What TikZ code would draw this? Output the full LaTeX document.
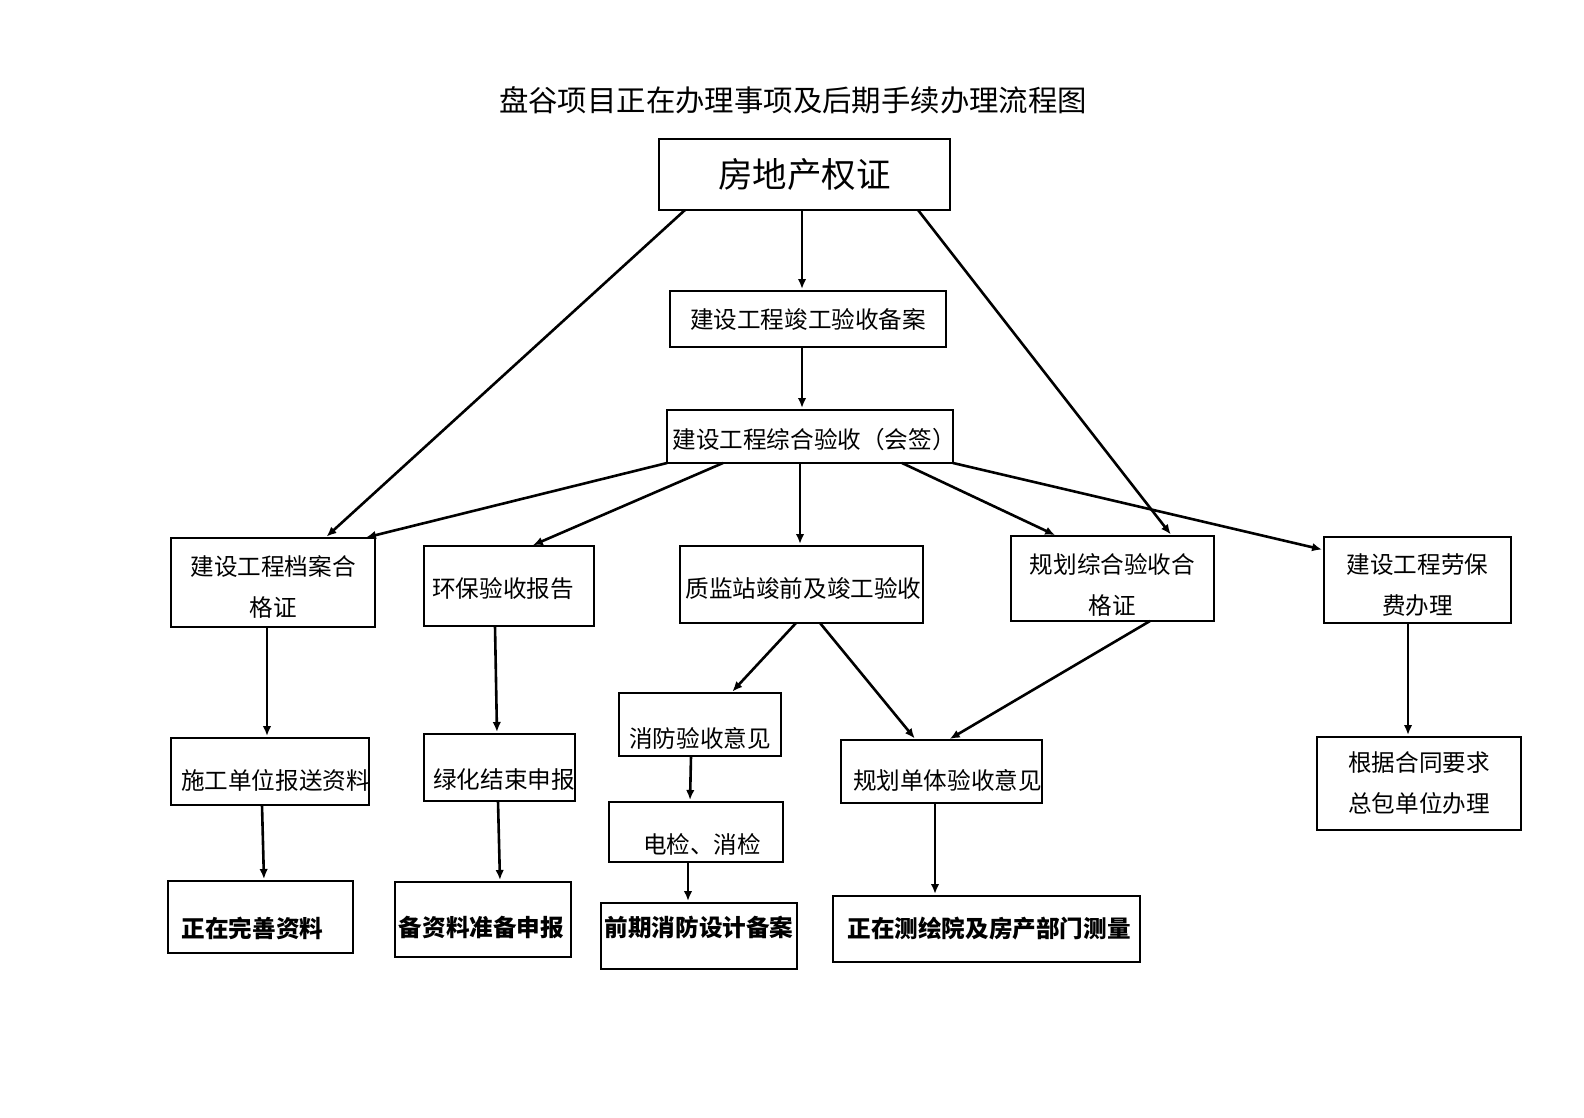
\documentclass[tikz,border=0pt]{standalone}
\usepackage{fontspec}
\setmainfont{Noto Sans CJK SC}
\usetikzlibrary{arrows.meta,positioning}

% move a line of text inside its box (dx, dy down)
\newcommand{\shifttxt}[3]{\raisebox{-#2}[\height][\depth]{\hspace*{#1}#3\hspace*{-#1}}}

\begin{document}
\begin{tikzpicture}[x=1pt,y=-1pt,>={Latex[length=10pt,width=8.5pt]},shorten >=2pt,
  box/.style={draw,line width=2.9pt,inner sep=0pt,outer sep=0pt,align=center,
    font=\fontsize{23.6}{41}\selectfont},
  boldbox/.style={box,font=\fontsize{23.6}{41}\selectfont\bfseries}]
  \useasboundingbox (0,0) rectangle (1584,1118);

  \node (title) at (793,100) {\fontsize{29.4}{36}\selectfont 盘谷项目正在办理事项及后期手续办理流程图};

  \node[box,minimum width=291pt,minimum height=71pt,font=\fontsize{34.5}{40}\selectfont] (fdc) at (804.5,174.5) {房地产权证};
  \node[box,minimum width=276pt,minimum height=56pt] (jgba) [below=81pt of fdc,xshift=3.5pt] {建设工程竣工验收备案};
  \node[box,minimum width=286pt,minimum height=53pt] (zhys) [below=63pt of jgba,xshift=2pt] {\shifttxt{4pt}{3pt}{建设工程综合验收（会签）}};

  % second row
  \node[box,minimum width=204pt,minimum height=89pt] (dajg) at (273,582.5) {\shifttxt{0pt}{4pt}{建设工程档案合}\\\shifttxt{0pt}{4pt}{格证}};
  \node[box,minimum width=170pt,minimum height=80pt] (hbys) at (509,586) {\shifttxt{-6pt}{3pt}{环保验收报告}};
  \node[box,minimum width=243pt,minimum height=77pt] (zjz) at (801.5,584.5) {\shifttxt{2pt}{4pt}{质监站竣前及竣工验收}};
  \node[box,minimum width=203pt,minimum height=85pt] (ghzh) at (1112.5,578.5) {\shifttxt{0pt}{6pt}{规划综合验收合}\\\shifttxt{0pt}{6pt}{格证}};
  \node[box,minimum width=187pt,minimum height=86pt] (lbf) at (1417.5,580) {\shifttxt{0pt}{5pt}{建设工程劳保}\\\shifttxt{0pt}{5pt}{费办理}};

  % third row
  \node[box,minimum width=198pt,minimum height=67pt] (ssbs) [below=111pt of dajg,xshift=-3pt] {\shifttxt{5.5pt}{8.5pt}{施工单位报送资料}};
  \node[box,minimum width=151pt,minimum height=67pt] (lhjs) [below=108pt of hbys,xshift=-9.5pt] {\shifttxt{4.5pt}{12.5pt}{绿化结束申报}};
  \node[box,minimum width=162pt,minimum height=63pt] (xfys) at (700,724.5) {\shifttxt{0pt}{13.5pt}{消防验收意见}};
  \node[box,minimum width=174pt,minimum height=60pt] (djxj) [below=46pt of xfys,xshift=-4pt] {\shifttxt{6pt}{12.5pt}{电检、消检}};
  \node[box,minimum width=201pt,minimum height=63pt] (ghdt) at (941.5,771.5) {\shifttxt{6pt}{8.5pt}{规划单体验收意见}};
  \node[box,minimum width=204pt,minimum height=93pt] (gjht) [below=114pt of lbf,xshift=1.5pt] {根据合同要求\\总包单位办理};

  % bottom row
  \node[boldbox,minimum width=185pt,minimum height=72pt] (zzws) [below=76pt of ssbs,xshift=-9.5pt] {\shifttxt{-8pt}{11pt}{正在完善资料}};
  \node[boldbox,minimum width=176pt,minimum height=75pt] (bzl) [below=81pt of lhjs,xshift=-16.5pt] {\shifttxt{-1.5pt}{8.5pt}{备资料准备申报}};
  \node[boldbox,minimum width=196pt,minimum height=66pt] (qqxf) [below=41pt of djxj,xshift=3pt] {\shifttxt{0pt}{-9pt}{前期消防设计备案}};
  \node[boldbox,minimum width=307pt,minimum height=66pt] (zzch) [below=93pt of ghdt,xshift=45pt] {\shifttxt{2.5pt}{0pt}{正在测绘院及房产部门测量}};

  \path[->,line width=2.6pt]
    ([xshift=-2.5pt]fdc.south) edge ([xshift=-2.5pt]fdc.south |- jgba.north)
    ([xshift=-6pt]jgba.south) edge ([xshift=-6pt]jgba.south |- zhys.north)
    ([xshift=26pt]fdc.south west) edge ([xshift=52pt]dajg.north)
    ([xshift=-32pt]fdc.south east) edge ([xshift=59.5pt]ghzh.north)

    (zhys.south west) edge ([xshift=-11pt]dajg.north east)
    ([xshift=56pt]zhys.south west) edge ([xshift=22pt]hbys.north)
    ([xshift=-10pt]zhys.south) edge ([xshift=-10pt]zhys.south |- zjz.north)
    ([xshift=92pt]zhys.south) edge ([xshift=-55.5pt]ghzh.north)
    (zhys.south east) edge ([yshift=-13pt]lbf.north west)

    ([xshift=-6pt]dajg.south) edge ([xshift=-6pt]dajg.south |- ssbs.north)
    ([xshift=-14pt]hbys.south) edge ([xshift=-2.5pt]lhjs.north)
    ([xshift=-5.5pt]zjz.south) edge ([xshift=31pt]xfys.north)
    ([xshift=18.5pt]zjz.south) edge ([xshift=-25.5pt]ghdt.north)
    ([xshift=37.5pt]ghzh.south) edge ([xshift=6.5pt]ghdt.north)
    ([xshift=-9.5pt]lbf.south) edge ([xshift=-9.5pt]lbf.south |- gjht.north)

    ([xshift=-8pt]ssbs.south) edge ([xshift=3.5pt]zzws.north)
    ([xshift=-1.5pt]lhjs.south) edge ([xshift=17pt]bzl.north)
    ([xshift=-9pt]xfys.south) edge ([xshift=-6pt]djxj.north)
    ([xshift=-8pt]djxj.south) edge ([xshift=-11pt]qqxf.north)
    ([xshift=-6.5pt]ghdt.south) edge ([xshift=-51.5pt]zzch.north);
\end{tikzpicture}
\end{document}
